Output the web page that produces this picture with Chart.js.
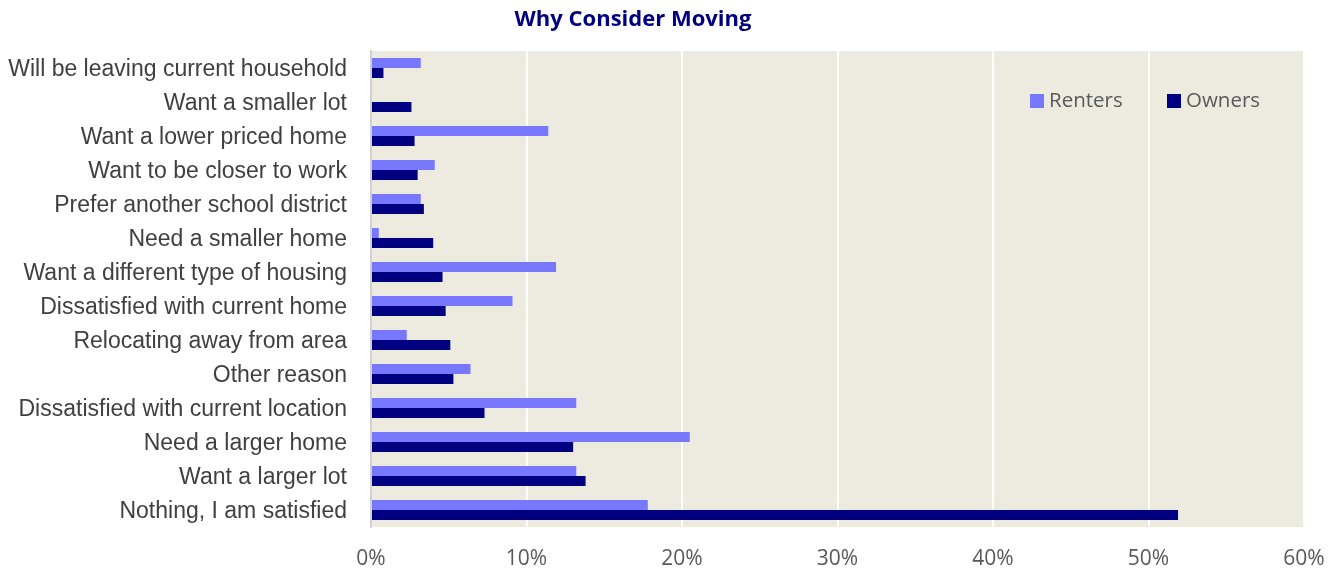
<!DOCTYPE html>
<html>
<head>
<meta charset="utf-8">
<script src="https://cdn.jsdelivr.net/npm/chart.js@4.4.0/dist/chart.umd.min.js"></script>
<style>
  html, body { margin: 0; padding: 0; background: #ffffff; }
  #wrap { width: 1343px; height: 570px; position: relative; }
</style>
</head>
<body>
<div id="wrap"><canvas id="movingChart" width="1343" height="570"></canvas></div>
<script>
// why consider moving - renters vs owners
var reasons = [
    'Will be leaving current household',
    'Want a smaller lot',
    'Want a lower priced home',
    'Want to be closer to work',
    'Prefer another school district',
    'Need a smaller home',
    'Want a different type of housing',
    'Dissatisfied with current home',
    'Relocating away from area',
    'Other reason',
    'Dissatisfied with current location',
    'Need a larger home',
    'Want a larger lot',
    'Nothing, I am satisfied'
];
var renters = [3.2, 0, 11.4, 4.1, 3.2, 0.5, 11.9, 9.1, 2.3, 6.4, 13.2, 20.5, 13.2, 17.8];
var owners  = [0.8, 2.6, 2.8, 3.0, 3.4, 4.0, 4.6, 4.8, 5.1, 5.3, 7.3, 13.0, 13.8, 51.9];
var xTicks = [0, 10, 20, 30, 40, 50, 60];

var plotBg = {
    id: 'plotBg',
    beforeDraw: function(chart) {
        var a = chart.chartArea, c = chart.ctx;
        c.save();
        c.fillStyle = '#edeae0';
        c.fillRect(a.left, a.top, a.right - a.left, a.bottom - a.top);
        c.restore();
    }
};

// title + legend drawn inside the plot like the original
var extras = {
    id: 'extras',
    afterDraw: function(chart) {
        var c = chart.ctx;
        c.save();
        c.fillStyle = '#000080';
        c.font = 'bold 22px "Open Sans", sans-serif';
        c.textAlign = 'center';
        c.textBaseline = 'middle';
        c.fillText('Why Consider Moving', 633, 20);

        var items = [
            { label: 'Renters', color: '#7878ff', x: 1030 },
            { label: 'Owners', color: '#000080', x: 1167 }
        ];
        c.font = '20.5px "Open Sans", sans-serif';
        c.textAlign = 'left';
        items.forEach(function(it) {
            c.fillStyle = it.color;
            c.fillRect(it.x, 94, 14, 14);
            c.fillStyle = '#595959';
            c.fillText(it.label, it.x + 19, 101);
        });
        c.restore();
    }
};

new Chart(document.getElementById('movingChart').getContext('2d'), {
    type: 'bar',
    data: {
        labels: reasons,
        datasets: [
            { label: 'Renters', data: renters, backgroundColor: '#7878ff' },
            { label: 'Owners', data: owners, backgroundColor: '#000080' }
        ]
    },
    options: {
        indexAxis: 'y',
        responsive: false,
        animation: false,
        categoryPercentage: 0.59,
        barPercentage: 1.0,
        layout: { padding: { top: 51, right: 39, left: 0, bottom: 0 } },
        plugins: {
            legend: { display: false },
            title: { display: false },
            tooltip: { enabled: false }
        },
        scales: {
            x: {
                min: 0,
                max: 60,
                afterBuildTicks: function(scale) {
                    scale.ticks = xTicks.map(function(v) { return { value: v }; });
                },
                afterFit: function(scale) {
                    scale.height = 43;
                    scale.paddingRight = 0;
                    scale.paddingLeft = 0;
                },
                grid: { color: '#ffffff', lineWidth: 2, drawTicks: false },
                border: { display: false },
                ticks: {
                    padding: 19,
                    color: '#595959',
                    font: { family: '"Open Sans", sans-serif', size: 21 },
                    callback: function(v) { return v + '%'; }
                }
            },
            y: {
                afterFit: function(scale) { scale.width = 371; },
                grid: { display: false, drawTicks: false },
                border: { display: true, color: '#d0d0d0', width: 2 },
                ticks: {
                    padding: 24,
                    labelOffset: 1.5,
                    color: '#404040',
                    font: { family: '"Liberation Sans", Arial, sans-serif', size: 23 }
                }
            }
        }
    },
    plugins: [plotBg, extras]
});
</script>
</body>
</html>
